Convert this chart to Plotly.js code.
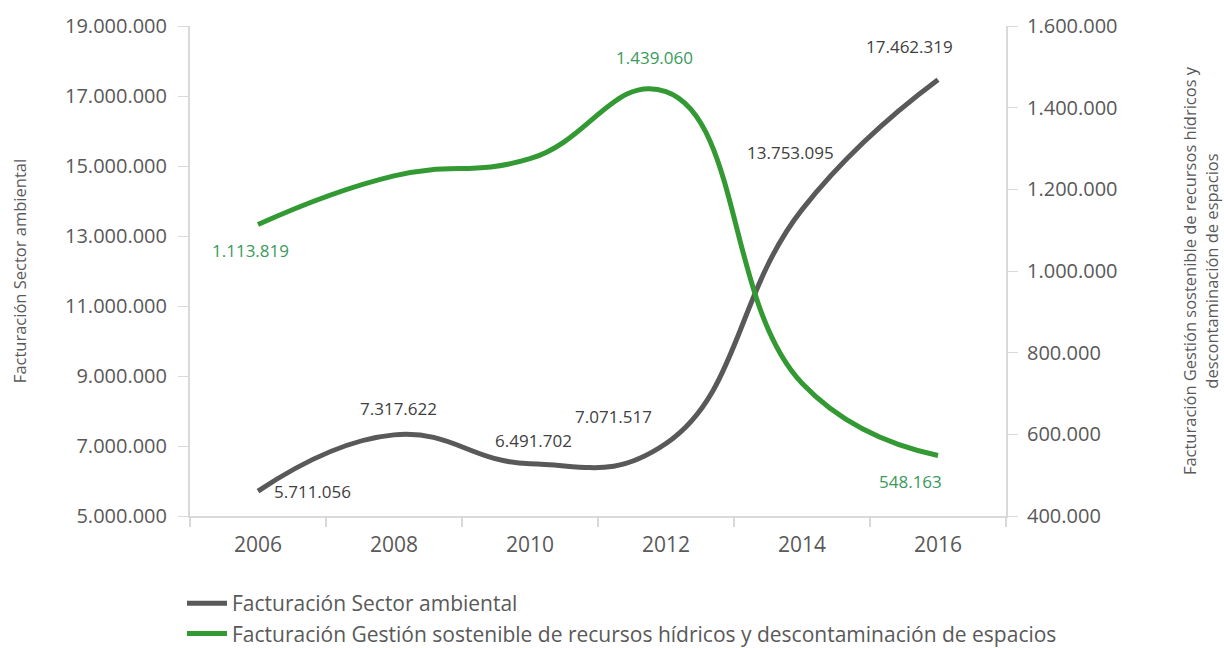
<!DOCTYPE html>
<html>
<head>
<meta charset="utf-8">
<script src="https://cdn.plot.ly/plotly-3.0.1.min.js"></script>
<style>html,body{margin:0;padding:0;background:#fff;}#chart{width:1224px;height:648px;}</style>
</head>
<body>
<div id="chart"></div>
<script>
// ---- data ----
var years = ["2006", "2008", "2010", "2012", "2014", "2016"];
var sectorAmbiental = [5711056, 7317622, 6491702, 7071517, 13753095, 17462319];
var gestionHidricos = [1113819, 1233000, 1275000, 1439060, 725000, 548163];
var sectorName = "Facturación Sector ambiental";
var hidricosName = "Facturación Gestión sostenible de recursos hídricos y descontaminación de espacios";
var hidricosLabelIdx = [0, 3, 5];

// ---- label offsets (style) ----
var sectorOffsets = [[54, 0], [4, 26], [3, 23], [-53, 27], [-12, 57], [-29, 33]];
var hidricosOffsets = [[-8, -26], [-12, 34], [-28, -26]];

function fmt(v) { return String(v).replace(/\B(?=(\d{3})+(?!\d))/g, "."); }

var FONT = "Open Sans, sans-serif";
var AXC = "#d9d9d9";
var TXT = "#595959";
var DARK = "#595959";
var GREEN = "#339933";
var GREEN_TXT = "#3a9a5c";

var traces = [
  {
    x: years, y: sectorAmbiental, name: sectorName, type: "scatter", mode: "lines",
    line: {color: DARK, width: 5, shape: "spline", smoothing: 1.3}, yaxis: "y"
  },
  {
    x: years, y: gestionHidricos, name: hidricosName, type: "scatter", mode: "lines",
    line: {color: GREEN, width: 5, shape: "spline", smoothing: 1.3}, yaxis: "y2"
  }
];

var annotations = [];
sectorAmbiental.forEach(function (v, i) {
  annotations.push({
    x: i, y: v, xref: "x", yref: "y", text: fmt(v), showarrow: false,
    xshift: sectorOffsets[i][0], yshift: sectorOffsets[i][1],
    font: {family: FONT, size: 17, color: "#404040"}
  });
});
hidricosLabelIdx.forEach(function (idx, k) {
  annotations.push({
    x: idx, y: gestionHidricos[idx], xref: "x", yref: "y2", text: fmt(gestionHidricos[idx]), showarrow: false,
    xshift: hidricosOffsets[k][0], yshift: hidricosOffsets[k][1],
    font: {family: FONT, size: 17, color: GREEN_TXT}
  });
});

var layout = {
  width: 1224, height: 648,
  margin: {l: 190, r: 218, t: 26, b: 132},
  paper_bgcolor: "#ffffff", plot_bgcolor: "#ffffff",
  separators: ",.",
  font: {family: FONT, color: TXT},
  showlegend: true,
  legend: {
    orientation: "v", x: -0.0098, y: 1 - 583 / 648, xref: "paper", yref: "container",
    xanchor: "left", yanchor: "top", itemwidth: 40,
    font: {family: FONT, size: 21, color: TXT}, tracegroupgap: 0
  },
  xaxis: {
    type: "category", range: [-0.5, 5.5], showgrid: false, zeroline: false,
    showline: true, linecolor: AXC, linewidth: 2,
    ticks: "outside", tickson: "boundaries", ticklen: 9, tickcolor: AXC, tickwidth: 2,
    ticklabelstandoff: 9,
    tickfont: {family: FONT, size: 21, color: TXT}
  },
  yaxis: {
    range: [5000000, 19000000], dtick: 2000000, tick0: 5000000, tickformat: ",d",
    showgrid: false, zeroline: false, showline: true, linecolor: AXC, linewidth: 2,
    ticks: "outside", ticklen: 10, tickcolor: AXC, tickwidth: 1, ticklabelstandoff: 7,
    tickfont: {family: FONT, size: 20, color: TXT},
    title: {text: sectorName, font: {family: FONT, size: 16.5, color: TXT}, standoff: 34}
  },
  yaxis2: {
    overlaying: "y", side: "right",
    range: [400000, 1600000], dtick: 200000, tick0: 400000, tickformat: ",d",
    showgrid: false, zeroline: false, showline: true, linecolor: AXC, linewidth: 2,
    ticks: "outside", ticklen: 10, tickcolor: AXC, tickwidth: 1, ticklabelstandoff: 5,
    tickfont: {family: FONT, size: 20, color: TXT},
    title: {text: "Facturación Gestión sostenible de recursos hídricos y<br>descontaminación de espacios",
            font: {family: FONT, size: 16.5, color: TXT}, standoff: 68}
  },
  annotations: annotations
};

Plotly.newPlot("chart", traces, layout, {displayModeBar: false, responsive: false});
</script>
</body>
</html>
